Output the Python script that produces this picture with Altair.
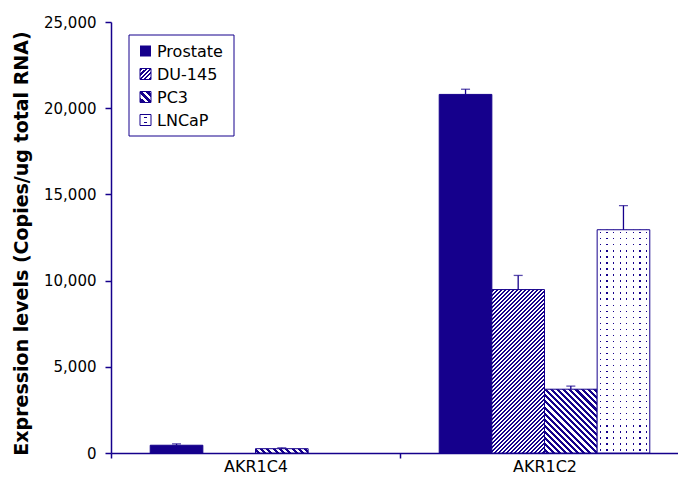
import altair as alt
import pandas as pd

# ---- data ----
genes = ["AKR1C4", "AKR1C2"]
series = ["Prostate", "DU-145", "PC3", "LNCaP"]
akr1c4_values = [450, 0, 250, 0]
akr1c4_errors = [80, 0, 50, 0]
akr1c2_values = [20800, 9480, 3700, 12950]
akr1c2_errors = [300, 820, 180, 1400]
y_ticks = [0, 5000, 10000, 15000, 20000, 25000]
y_title = "Expression levels (Copies/ug total RNA)"

rows = []
for g, vals, errs in [("AKR1C4", akr1c4_values, akr1c4_errors),
                      ("AKR1C2", akr1c2_values, akr1c2_errors)]:
    for s, v, e in zip(series, vals, errs):
        rows.append({"gene": g, "series": s, "value": v, "err": e, "top": v + e})
df = pd.DataFrame(rows)

# ---- style ----
W, H = 567, 431          # visible plot area
XRANGE = 578             # category axis runs on past the right edge, as in the original
YMAX = 25000
NAVY = "#15008c"
CLEAR = "rgba(255,255,255,0)"
FONT = "DejaVu Sans"
PAD_OUTER = 0.745
STEP = (XRANGE / len(genes)) / (len(series) + 2 * PAD_OUTER)


def stripe_stops(n, start, frac, on, off):
    stops = []
    for i in range(n):
        a = (i + start) / n
        b = (i + start + frac) / n
        c0 = i / n
        c1 = (i + 1) / n
        stops += [
            {"offset": round(c0, 5), "color": off},
            {"offset": round(a, 5), "color": off},
            {"offset": round(a, 5), "color": on},
            {"offset": round(b, 5), "color": on},
            {"offset": round(b, 5), "color": off},
            {"offset": round(c1, 5), "color": off},
        ]
    return stops


def hatch(w, h, period, frac, forward):
    r = h / w
    s = (1 + r) / (1 + r * r)
    n = max(1, round((w + h) / period))
    if forward:
        g = {"x1": 0, "y1": 0, "x2": s, "y2": s * r}
    else:
        g = {"x1": 1, "y1": 0, "x2": 1 - s, "y2": s * r}
    return {"gradient": "linear", **g,
            "stops": stripe_stops(n, 0.25, frac, NAVY, "white")}


def dot_cols(ncols, frac):
    return {"gradient": "linear", "x1": 0, "y1": 0, "x2": 1, "y2": 0,
            "stops": stripe_stops(ncols, 0.5 - frac / 2, frac, NAVY, CLEAR)}


def dot_rows(nrows, frac):
    return {"gradient": "linear", "x1": 0, "y1": 0, "x2": 0, "y2": 1,
            "stops": stripe_stops(nrows, 0.5 - frac / 2, frac, CLEAR, "white")}


def enc_x():
    return alt.X("gene:N", title=None,
                 scale=alt.Scale(domain=genes, paddingInner=0, paddingOuter=0,
                                 range=[0, XRANGE]))


def enc_xo():
    return alt.XOffset("series:N",
                       scale=alt.Scale(domain=series, paddingInner=0,
                                       paddingOuter=PAD_OUTER))


def enc_y(field):
    return alt.Y(field, title=y_title, scale=alt.Scale(domain=[0, YMAX]),
                 axis=alt.Axis(values=y_ticks, format=",d"))


base = alt.Chart(df)
layers = []

for rec in rows:
    v = rec["value"]
    if v <= 0:
        continue
    g, s = rec["gene"], rec["series"]
    sub = base.transform_filter(f"datum.gene === '{g}' && datum.series === '{s}'")
    enc = dict(x=enc_x(), xOffset=enc_xo(), y=enc_y("value:Q"))
    h = v / YMAX * H
    if s == "Prostate":
        layers.append(sub.mark_bar(fill=NAVY, stroke=NAVY, strokeWidth=1).encode(**enc))
    elif s == "DU-145":
        layers.append(sub.mark_bar(fill=hatch(STEP, h, 4.0, 0.5, True),
                                   stroke=NAVY, strokeWidth=1).encode(**enc))
    elif s == "PC3":
        layers.append(sub.mark_bar(fill=hatch(STEP, h, 6.0, 0.5, False),
                                   stroke=NAVY, strokeWidth=1).encode(**enc))
    else:
        layers.append(sub.mark_bar(fill="white").encode(**enc))
        layers.append(sub.mark_bar(fill=dot_cols(8, 0.2)).encode(**enc))
        layers.append(sub.mark_bar(fill=dot_rows(max(1, round(h / 6)), 0.22)).encode(**enc))
        layers.append(sub.mark_bar(fillOpacity=0, stroke=NAVY, strokeWidth=1).encode(**enc))

errs = base.transform_filter("datum.err > 0")
layers.append(errs.mark_rule(color=NAVY, strokeWidth=1.3).encode(
    x=enc_x(), xOffset=enc_xo(), y=enc_y("value:Q"), y2="top:Q"))
layers.append(errs.mark_tick(color=NAVY, thickness=1.3, size=9).encode(
    x=enc_x(), xOffset=enc_xo(), y=enc_y("top:Q")))

# ---- legend (drawn by hand so that patterns can be shown) ----
leg = alt.Chart(pd.DataFrame({"series": series}))
layers.append(leg.transform_filter("datum.series === 'Prostate'").mark_rect(
    fill="white", stroke=NAVY, strokeWidth=1).encode(
    x=alt.value(18), x2=alt.value(123), y=alt.value(13), y2=alt.value(114)))

leg_y = [29, 52, 75, 98]
sym = 11
for s, yc in zip(series, leg_y):
    item = leg.transform_filter(f"datum.series === '{s}'")
    pos = dict(x=alt.value(29), x2=alt.value(29 + sym),
               y=alt.value(yc - sym / 2), y2=alt.value(yc + sym / 2))
    if s == "Prostate":
        layers.append(item.mark_rect(fill=NAVY).encode(**pos))
    elif s == "DU-145":
        layers.append(item.mark_rect(fill=hatch(sym, sym, 4.5, 0.5, True),
                                     stroke=NAVY, strokeWidth=1).encode(**pos))
    elif s == "PC3":
        layers.append(item.mark_rect(fill=hatch(sym, sym, 7.0, 0.55, False),
                                     stroke=NAVY, strokeWidth=1).encode(**pos))
    else:
        layers.append(item.mark_rect(fill="white").encode(**pos))
        layers.append(item.mark_rect(fill=dot_cols(1, 0.2)).encode(**pos))
        layers.append(item.mark_rect(fill=dot_rows(2, 0.25)).encode(**pos))
        layers.append(item.mark_rect(fillOpacity=0, stroke=NAVY, strokeWidth=1).encode(**pos))
    layers.append(item.mark_text(align="left", baseline="middle", font=FONT,
                                 fontSize=16, color="black").encode(
        text="series:N", x=alt.value(46), y=alt.value(yc + 1)))

chart = alt.layer(*layers).properties(
    width=W, height=H,
    autosize=alt.AutoSizeParams(type="none"),
    padding={"left": 103, "top": 14, "right": 0, "bottom": 22},
    background="white",
).configure_view(stroke=None).configure_axisX(
    domainColor=NAVY, domainWidth=1.5, tickColor=NAVY, tickWidth=1.5,
    tickSize=5, tickBand="extent", labelFont=FONT, labelFontSize=16,
    labelColor="black", labelPadding=0, labelAngle=0, grid=False,
).configure_axisY(
    domainColor=NAVY, domainWidth=1.5, tickColor=NAVY, tickWidth=1.5,
    tickSize=6, labelFont=FONT, labelFontSize=15, labelColor="black",
    labelPadding=9, grid=False,
    titleFont=FONT, titleFontWeight="bold", titleFontSize=19,
    titleColor="black", titleX=-90, titleY=221, titleAngle=270,
    titleAlign="center", titleBaseline="middle",
)

chart.save("out.html", embed_options={"renderer": "svg", "actions": False})
